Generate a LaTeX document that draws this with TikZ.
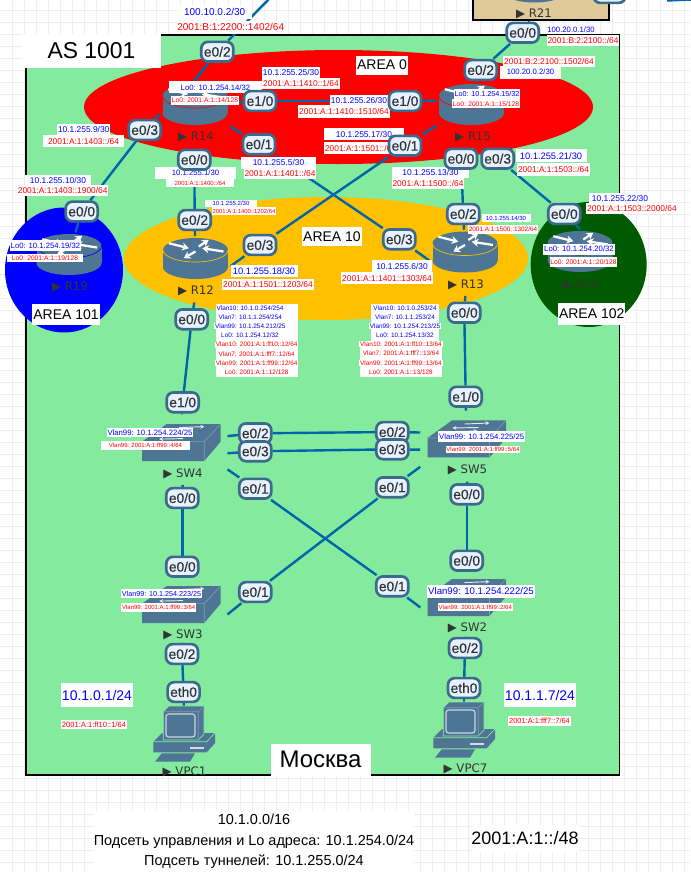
\documentclass[tikz,border=0pt]{standalone}
\usepackage{fontspec}
\setmainfont{Liberation Sans}
\newfontfamily\devfont{DejaVu Sans}
\newfontfamily\pillfont[FakeBold=0.35]{Liberation Sans}
\usetikzlibrary{arrows.meta,backgrounds}

\definecolor{moscow}{HTML}{84EA9E}
\definecolor{areaten}{HTML}{FFC000}
\definecolor{areadark}{HTML}{005A00}
\definecolor{tanbox}{HTML}{E0CA9A}
\definecolor{slate}{HTML}{4F7594}
\definecolor{slatelight}{HTML}{7C9DB6}
\definecolor{pillfill}{HTML}{E6F2FF}
\definecolor{pillline}{HTML}{3C6A8C}
\definecolor{linkblue}{HTML}{0065A9}
\definecolor{gridgray}{HTML}{EEEEEE}

\tikzset{
  lbl/.style={fill=white,inner sep=.6pt,font=\fontsize{#1}{#1}\selectfont},
  ipb/.style={lbl=#1,text=blue},
  ipr/.style={lbl=#1,text=red},
  wbox/.style 2 args={minimum width=#1*.75pt,minimum height=#2*.75pt},
  iface/.style={draw=pillline,line width=2pt,fill=pillfill,rounded corners=5pt,
    minimum width=24pt,minimum height=14.8pt,inner sep=0pt,text=black!80,
    font=\pillfont\fontsize{10.3}{10.3}\selectfont},
  routerbox/.style={minimum width=52.5pt,minimum height=33pt,inner sep=0pt},
  switchbox/.style={minimum width=69pt,minimum height=42pt,inner sep=0pt},
  pcbox/.style={minimum width=46pt,minimum height=40pt,inner sep=0pt},
  devlabel/.style={minimum height=16.5pt,inner sep=0pt,text=black!80,
    font=\devfont\fontsize{8.8}{8.8}\selectfont},
  link/.style={draw=linkblue,line width=1.8pt},
  whitearrow/.style={draw=white,line width=1.7pt,-{Stealth[length=5pt,width=6pt]}},
  thinarrow/.style={draw=white!85!slate,line width=.7pt,-{Stealth[length=3pt,width=3pt]}},
  routerpic/.pic={
    \fill[slate] (-32.5,-8.5) rectangle (32.5,8.5);
    \fill[slate] (0,8.5) ellipse [x radius=32.5,y radius=12];
    \fill[slate] (0,-8.5) ellipse [x radius=32.5,y radius=12];
    \draw[#1,line width=.5pt] (-32.5,-8.5) arc [start angle=180,end angle=0,x radius=32.5,y radius=12];
    \draw[whitearrow] (-26.7,-15.3) -- (-6.7,-10.3);
    \draw[whitearrow] (3.3,-12) -- (13.3,-18.7);
    \draw[whitearrow] (28,-7) -- (6.7,-10.3);
    \draw[whitearrow] (0,-7) -- (-11.7,-.3);
  },
  switchpic/.pic={
    \fill[slate] (-39,-1) -- (-14.5,-18.6) -- (39.5,-18.6) -- (39.5,-1) -- (23,18.4) -- (-39,18.4) -- cycle;
    \draw[slatelight,line width=.5pt] (-39,-1) -- (23,-1) -- (39.5,-18.6) (23,-1) -- (23,18.4);
    \draw[thinarrow] (-2,-15) -- (23,-16);
    \draw[thinarrow] (12,-11.5) -- (-14,-11);
    \draw[thinarrow] (-10,-7.5) -- (11,-8);
    \draw[thinarrow] (2,-4) -- (-22,-3.5);
  },
  pcpic/.pic={
    \fill[slate] (-30.7,5.7) -- (-22,-3) -- (31,-3) -- (31,7) -- (22.7,16.3) -- (-30.7,16.3) -- cycle;
    \draw[moscow,line width=.5pt] (-30.7,5.7) -- (22.7,5.7) -- (31,-3);
    \fill[white!75!slate] (6,11) rectangle (20,13);
    \filldraw[fill=slate,draw=moscow,line width=.5pt] (-20.7,-24.3) -- (-15,-30) -- (20,-30) -- (20,-2) -- (14.3,4) -- (-20.7,4) -- cycle;
    \draw[slatelight,line width=.5pt] (-20.7,-24.3) -- (14.3,-24.3) -- (20,-30) (14.3,-24.3) -- (14.3,4);
    \draw[white!70!slate,line width=.9pt,rounded corners=2pt] (-18,-22) rectangle (11,1);
    \fill[slate] (-22.3,17.3) -- (11,17.3) -- (6,25.7) -- (-29,25.7) -- cycle;
  }
}

\begin{document}
\begin{tikzpicture}[x=.75pt,y=-.75pt]
  \useasboundingbox (0,0) rectangle (690,872);

  % devices
  \node [routerbox] (R14) at (195,104.5) {};
  \node [routerbox] (R15) at (471.5,104.5) {};
  \node [routerbox] (R12) at (195.5,258.5) {};
  \node [routerbox] (R13) at (465,252) {};
  \node [routerbox] (R19) at (69,254.5) {};
  \node [routerbox] (R20) at (580,251.5) {};
  \node [routerbox] (R21) at (534.5,-18) {};
  \node [switchbox] (SW4) at (181.2,442.6) {};
  \node [switchbox] (SW5) at (466.5,439) {};
  \node [switchbox] (SW3) at (181.2,604.6) {};
  \node [switchbox] (SW2) at (466.5,597.6) {};
  \node [pcbox] (VPC1) at (184,736) {};
  \node [pcbox] (VPC7) at (464,732) {};

  \foreach \name/\ring in {R14/red,R15/red,R12/areaten,R13/areaten,R19/blue,R20/areadark,R21/tanbox}
    \pic at (\name) {routerpic=\ring};
  \foreach \name in {SW4,SW5,SW3,SW2}
    \pic at (\name) {switchpic};
  \foreach \name in {VPC1,VPC7}
    \pic at (\name) {pcpic};

  \node [devlabel] (R14lab) at (196,136.5) {▶ R14};
  \node [devlabel] (R15lab) at (473,136.5) {▶ R15};
  \node [devlabel] (R12lab) at (196,291.3) {▶ R12};
  \node [devlabel] (R13lab) at (466,284.7) {▶ R13};
  \node [devlabel] (R19lab) at (70,287.3) {▶ R19};
  \node [devlabel] (R20lab) at (581,284.7) {▶ R20};
  \node [devlabel] (R21lab) at (534,14) {▶ R21};
  \node [devlabel] (SW4lab) at (183,473.7) {▶ SW4};
  \node [devlabel] (SW5lab) at (467.5,470.3) {▶ SW5};
  \node [devlabel] (SW3lab) at (183,635) {▶ SW3};
  \node [devlabel] (SW2lab) at (467.5,628.3) {▶ SW2};
  \node [devlabel] (VPC1lab) at (184.5,772) {▶ VPC1};
  \node [devlabel] (VPC7lab) at (465.5,768.7) {▶ VPC7};

  % titles
  \node [lbl=17.2,wbox={139}{34}] (as) at (91.5,51) {AS 1001};
  \node [lbl=10.5,wbox={52}{19}] (area0) at (382,65) {AREA 0};
  \node [lbl=10.5,wbox={59}{19}] (area10) at (332,236.5) {AREA 10};
  \node [lbl=10.5,wbox={68}{21}] (area101) at (66,314.5) {AREA 101};
  \node [lbl=10.5,wbox={67}{22}] (area102) at (591.7,314) {AREA 102};
  \node [lbl=18,wbox={100}{32}] (msk) at (320.5,759.5) {Москва};
  \node [inner sep=0pt,fill=white,wbox={320}{61},align=center,font=\fontsize{10.85}{15.4}\selectfont] (nets) at (254,841.5)
    {10.1.0.0/16\\Подсеть управления и Lo адреса: 10.1.254.0/24\\Подсеть туннелей: 10.1.255.0/24};
  \node [lbl=13.5,wbox={108}{27}] (v6net) at (525,838.5) {2001:A:1::/48};

  % R14
  \node [ipb=7.5,wbox={74}{13}] (t1) at (214.7,12) {100.10.0.2/30};
  \node [ipr=7.5,wbox={110}{13}] (t2) at (230.7,27.3) {2001:B:1:2200::1402/64};
  \node [ipb=5.8,wbox={93}{12}] (t3) at (215.5,87.3) {Lo0: 10.1.254.14/32};
  \node [ipr=5,wbox={65}{9}] (t4) at (205,100.3) {Lo0: 2001:A:1::14/128};
  \node [ipb=6.3,wbox={57}{11}] (t5) at (291,72.5) {10.1.255.25/30};
  \node [ipr=6.3,wbox={77}{11}] (t6) at (301,83) {2001:A:1:1410::1/64};
  \node [ipb=6.3,wbox={58}{11}] (t7) at (359,100) {10.1.255.26/30};
  \node [ipr=6.3,wbox={90}{13}] (t8) at (344,111.7) {2001:A:1:1410::1510/64};
  \node [ipb=6.3,wbox={52}{11}] (t9) at (83.7,129.3) {10.1.255.9/30};
  \node [ipr=6.3,wbox={81}{12}] (t10) at (83.5,141) {2001:A:1:1403::/64};
  \node [ipb=6.3,wbox={66}{11}] (t11) at (58,180.3) {10.1.255.10/30};
  \node [ipr=6.3,wbox={90}{11}] (t12) at (62.7,190.7) {2001:A:1:1403::1900/64};
  \node [ipb=6.3,wbox={75}{12}] (t13) at (278.5,162.5) {10.1.255.5/30};
  \node [ipr=6.3,wbox={72}{11}] (t14) at (280,173.5) {2001:A:1:1401::/64};
  \node [ipb=5.8,wbox={81}{12}] (t15) at (195.5,173) {10.1.255.1/30};
  \node [ipr=4.5,wbox={68}{8}] (t16) at (200,183) {2001:A:1:1400::/64};
  \node [ipb=4.5,wbox={52}{7}] (t17) at (231,203.5) {10.1.255.2/30};
  \node [ipr=4.4,wbox={64}{8}] (t18) at (244,211) {2001:A:1:1400::1202/64};

  % R15, R21
  \node [ipb=5.8,wbox={48}{10}] (t19) at (571,29.3) {100.20.0.1/30};
  \node [ipr=6.3,wbox={71}{11}] (t20) at (583,40) {2001:B:2:2100::/64};
  \node [ipb=5.8,wbox={61}{13}] (t21) at (530.5,72) {100.20.0.2/30};
  \node [ipr=6.3,wbox={90}{11}] (t22) at (549,61.3) {2001:B:2:2100::1502/64};
  \node [ipb=5.4,wbox={65}{10}] (t23) at (487,93.7) {Lo0: 10.1.254.15/32};
  \node [ipr=5,wbox={65}{9}] (t24) at (486,103.7) {Lo0: 2001:A:1::15/128};
  \node [ipb=6.3,wbox={80}{12}] (t25) at (364,134) {10.1.255.17/30};
  \node [ipr=6.3,wbox={72}{12}] (t26) at (360.5,148) {2001:A:1:1501::/64};
  \node [ipb=6.3,wbox={77}{11}] (t27) at (430.5,172.7) {10.1.255.13/30};
  \node [ipr=6.3,wbox={71}{11}] (t28) at (428,183.7) {2001:A:1:1500::/64};
  \node [ipb=7,wbox={71}{13}] (t29) at (551,155.7) {10.1.255.21/30};
  \node [ipr=6.3,wbox={71}{13}] (t30) at (553.5,169.3) {2001:A:1:1503::/64};
  \node [ipb=6.3,wbox={63}{11}] (t31) at (620,198.5) {10.1.255.22/30};
  \node [ipr=6.3,wbox={90}{11}] (t32) at (632,208.7) {2001:A:1:1503::2000/64};

  % R19, R20
  \node [ipb=5.8,wbox={70}{11}] (t33) at (45.5,245.7) {Lo0: 10.1.254.19/32};
  \node [ipr=5,wbox={76}{8}] (t34) at (45,258.3) {Lo0: 2001:A:1::19/128};
  \node [ipb=5.8,wbox={69}{11}] (t35) at (579,249) {Lo0: 10.1.254.20/32};
  \node [ipr=5,wbox={65}{10}] (t36) at (583.5,262) {Lo0: 2001:A:1::20/128};

  % R12, R13
  \node [ipb=7,wbox={67}{12}] (t37) at (264,271) {10.1.255.18/30};
  \node [ipr=6.3,wbox={90}{11}] (t38) at (268,284.7) {2001:A:1:1501::1203/64};
  \node [ipb=4.5,wbox={49}{8}] (t39) at (506,218) {10.1.255.14/30};
  \node [ipr=4.8,wbox={70}{9}] (t40) at (503,229.7) {2001:A:1:1500::1302/64};
  \node [ipb=6.3,wbox={60}{13}] (t41) at (402,266.5) {10.1.255.6/30};
  \node [ipr=6.3,wbox={90}{12}] (t42) at (387,278) {2001:A:1:1401::1303/64};

  % vlan tables
  \node [fill=white,inner sep=0pt,wbox={82}{73}] (v12) at (257,340.5) {};
  \node [fill=white,inner sep=0pt,wbox={68}{37}] (v13a) at (405,322.5) {};
  \node [fill=white,inner sep=0pt,wbox={82}{36}] (v13b) at (401,359) {};
  \node [ipb=4.8] (t43) at (250,308.3) {Vlan10: 10.1.0.254/254};
  \node [ipb=4.8] (t44) at (250.3,317.3) {Vlan7: 10.1.1.254/254};
  \node [ipb=4.8] (t45) at (250.3,326.3) {Vlan99: 10.1.254.212/25};
  \node [ipb=4.8] (t46) at (250,335.3) {Lo0: 10.1.254.12/32};
  \node [ipr=4.8] (t47) at (256.7,344.7) {Vlan10: 2001:A:1:ff10::12/64};
  \node [ipr=4.8] (t48) at (256.7,354.3) {Vlan7: 2001:A:1:fff7::12/64};
  \node [ipr=4.8] (t49) at (256.7,363.3) {Vlan99: 2001:A:1:ff99::12/64};
  \node [ipr=4.8] (t50) at (256.7,372.3) {Lo0: 2001:A:1::12/128};
  \node [ipb=4.8] (t51) at (405,308) {Vlan10: 10.1.0.253/24};
  \node [ipb=4.8] (t52) at (405,317.3) {Vlan7: 10.1.1.253/24};
  \node [ipb=4.8] (t53) at (405,326.3) {Vlan99: 10.1.254.213/25};
  \node [ipb=4.8] (t54) at (405,335.3) {Lo0: 10.1.254.13/32};
  \node [ipr=4.8] (t55) at (401,344.3) {Vlan10: 2001:A:1:ff10::13/64};
  \node [ipr=4.8] (t56) at (401,353.7) {Vlan7: 2001:A:1:fff7::13/64};
  \node [ipr=4.8] (t57) at (401,363) {Vlan99: 2001:A:1:ff99::13/64};
  \node [ipr=4.8] (t58) at (401,372) {Lo0: 2001:A:1::13/128};

  % switches, hosts
  \node [ipb=5.8,wbox={85}{9}] (t59) at (150,432.5) {Vlan99: 10.1.254.224/25};
  \node [ipr=4.5,wbox={89}{9}] (t60) at (145.5,445) {Vlan99: 2001:A:1:ff99::4/64};
  \node [ipb=5.8,wbox={85}{11}] (t61) at (481.7,436.5) {Vlan99: 10.1.254.225/25};
  \node [ipr=4.5,wbox={73}{7}] (t62) at (483,449.5) {Vlan99: 2001:A:1:ff99::5/64};
  \node [ipb=5.4,wbox={79}{9}] (t63) at (161.5,593.5) {Vlan99: 10.1.254.223/25};
  \node [ipr=4.5,wbox={73}{9}] (t64) at (158.7,607.5) {Vlan99: 2001:A:1:ff99::3/64};
  \node [ipb=7.2,wbox={105}{13}] (t65) at (481,591.5) {Vlan99: 10.1.254.222/25};
  \node [ipr=4.5,wbox={73}{8}] (t66) at (475.3,607) {Vlan99: 2001:A:1:ff99::2/64};
  \node [ipb=10.5,wbox={72}{24}] (t67) at (97,695) {10.1.0.1/24};
  \node [ipr=5.7,wbox={66}{9}] (t68) at (94,724.5) {2001:A:1:ff10::1/64};
  \node [ipb=10.5,wbox={72}{24}] (t69) at (540,695) {10.1.1.7/24};
  \node [ipr=5.6,wbox={63}{10}] (t70) at (539.5,720.5) {2001:A:1:fff7::7/64};

  % interfaces
  \node [iface] (R14e02) at (217.3,51.7) {e0/2};
  \node [iface] (R14e10) at (260,101) {e1/0};
  \node [iface] (R14e03) at (144.7,130) {e0/3};
  \node [iface] (R14e01) at (259,144.3) {e0/1};
  \node [iface] (R14e00) at (194.3,159.7) {e0/0};
  \node [iface] (R19e00) at (81.7,211.5) {e0/0};
  \node [iface] (R12e02) at (194.7,220) {e0/2};
  \node [iface] (R12e03) at (260,245) {e0/3};
  \node [iface] (R12e00) at (191.7,319.3) {e0/0};
  \node [iface] (R15e02) at (480.7,70) {e0/2};
  \node [iface] (R15e10) at (405,101) {e1/0};
  \node [iface] (R15e01) at (405,145.7) {e0/1};
  \node [iface] (R15e00) at (461,158.7) {e0/0};
  \node [iface] (R15e03) at (497.7,158.7) {e0/3};
  \node [iface] (R21e00) at (522.7,32.7) {e0/0};
  \node [iface] (R21top) at (609.5,-7) {};
  \node [iface] (R13e02) at (463.3,214) {e0/2};
  \node [iface] (R13e03) at (399.3,239.3) {e0/3};
  \node [iface] (R13e00) at (464.3,312.7) {e0/0};
  \node [iface] (R20e00) at (564.3,214) {e0/0};
  \node [iface] (SW4e10) at (182.7,402.3) {e1/0};
  \node [iface] (SW4e02) at (255.3,433.3) {e0/2};
  \node [iface] (SW4e03) at (255.3,451.3) {e0/3};
  \node [iface] (SW4e01) at (255.3,488.7) {e0/1};
  \node [iface] (SW4e00) at (182.3,498) {e0/0};
  \node [iface] (SW5e10) at (465.7,396.7) {e1/0};
  \node [iface] (SW5e02) at (392.3,432) {e0/2};
  \node [iface] (SW5e03) at (392.3,449.3) {e0/3};
  \node [iface] (SW5e01) at (392.3,487.3) {e0/1};
  \node [iface] (SW5e00) at (466.7,494.3) {e0/0};
  \node [iface] (SW3e00) at (182.3,566.7) {e0/0};
  \node [iface] (SW3e01) at (255.3,592) {e0/1};
  \node [iface] (SW3e02) at (182,654) {e0/2};
  \node [iface] (SW2e00) at (466.7,560.7) {e0/0};
  \node [iface] (SW2e01) at (392.3,586.3) {e0/1};
  \node [iface] (SW2e02) at (465,648) {e0/2};
  \node [iface] (VPC1e0) at (183.6,692) {eth0};
  \node [iface] (VPC7e0) at (464,688) {eth0};

  \coordinate (uplink) at (270,-2);
  \coordinate (edgea) at (667,.5);
  \coordinate (edgeb) at (692,-.5);

  \begin{scope}[on background layer]
    \fill[white] (0,0) rectangle (690,872);
    \foreach \gx in {12.3,24.3,...,690}
      \draw[gridgray] (\gx,0) -- (\gx,872);
    \foreach \gy in {10,22,...,872}
      \draw[gridgray] (0,\gy) -- (690,\gy);

    \filldraw[fill=tanbox,draw=black,line width=.9pt] (473,-5) rectangle (609,20);
    \filldraw[fill=moscow,draw=black,line width=1.1pt] (26,35) rectangle (619.5,775);
    \fill[red] (338.5,107) ellipse [x radius=254.5,y radius=57];
    \fill[areaten] (326,258.5) ellipse [x radius=202,y radius=61.5];
    \fill[blue] (64,270) ellipse [x radius=59,y radius=62.5];
    \fill[areadark] (588.7,264.5) ellipse [x radius=58,y radius=62.5];

    \foreach \from/\to in {R14.95/R14e02,R14e02/uplink,R14/R14e10,R14e10/R15e10,R15e10/R15.174,
        R14.195/R14e03,R14e03/R19e00,R19e00/R19,R14.-32/R14e01,R14e01/R13e03,R13e03/R13.194,
        R14lab/R14e00,R14e00/R12e02,R12e02/R12,R15.211/R15e01,R15e01/R12e03,R12e03/R12.-12,
        R12lab/R12e00,R12e00/SW4e10,SW4e10/SW4,R15/R15e02,R15e02/R21e00,R21lab/R21e00,
        R15lab/R15e00,R15e00/R13e02,R13e02/R13,R15lab/R15e03,R15e03/R20e00,R20e00/R20.90,
        R13lab/R13e00,R13e00/SW5e10,SW5e10/SW5,
        SW4.8/SW4e02,SW4e02/SW5e02,SW5e02/SW5.172,SW4.-13/SW4e03,SW4e03/SW5e03,SW5e03/SW5.193,
        SW4.-30/SW4e01,SW4e01/SW2e01,SW2e01/SW2.192,SW5.211/SW5e01,SW5e01/SW3e01,SW3e01/SW3.-12,
        SW4lab/SW4e00,SW4e00/SW3e00,SW3e00/SW3,SW5lab/SW5e00,SW5e00/SW2e00,SW2e00/SW2,
        SW3lab/SW3e02,SW3e02/VPC1e0,VPC1e0/VPC1,SW2lab/SW2e02,SW2e02/VPC7e0,VPC7e0/VPC7,edgea/edgeb}
      \draw[link] (\from) -- (\to);
  \end{scope}
\end{tikzpicture}
\end{document}
